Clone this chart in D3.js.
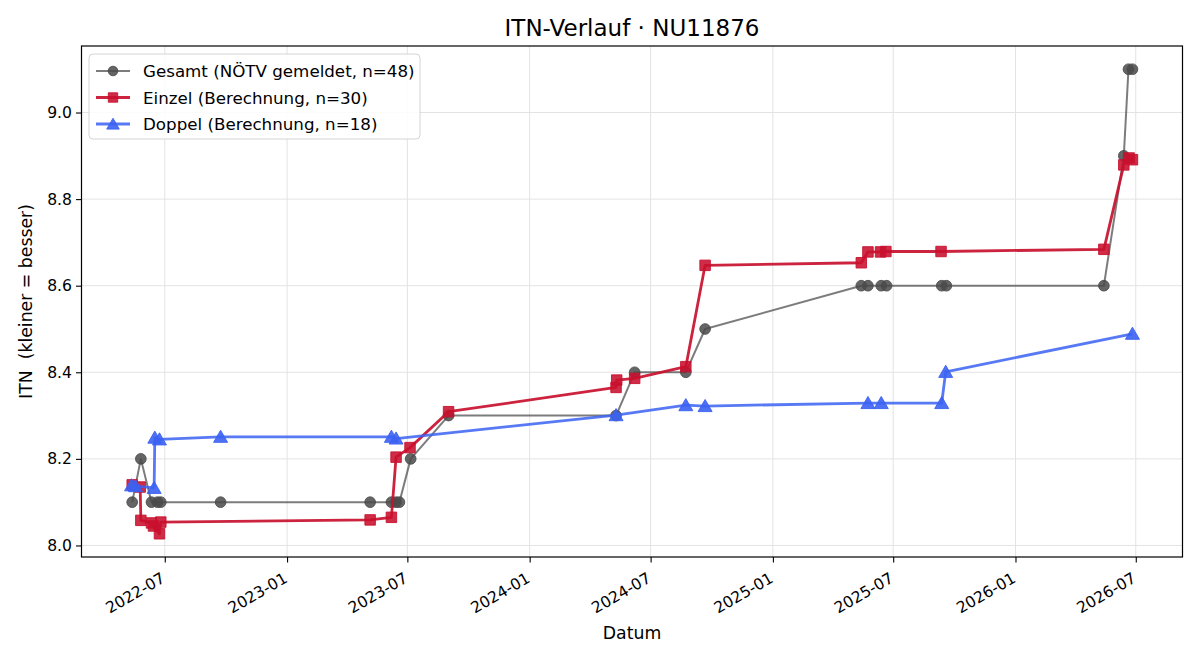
<!DOCTYPE html>
<html>
<head>
<meta charset="utf-8">
<script src="https://cdn.jsdelivr.net/npm/d3@7"></script>
<style>
  body { margin: 0; background: #fff; }
  svg { font-family: "DejaVu Sans", sans-serif; }
</style>
</head>
<body>
<svg id="chart"></svg>
<script>
// Gesamt (NÖTV gemeldet)
const gesamtDates = ["2022-05-13", "2022-05-26", "2022-06-11", "2022-06-20", "2022-06-25", "2022-09-23",
    "2023-05-06", "2023-06-07", "2023-06-14", "2023-06-19", "2023-07-06", "2023-09-01",
    "2024-05-10", "2024-06-07", "2024-08-23", "2024-09-21",
    "2025-05-14", "2025-05-24", "2025-06-13", "2025-06-21", "2025-09-12", "2025-09-19",
    "2026-05-14", "2026-06-13", "2026-06-20", "2026-06-26"];
const gesamtValues = [8.1, 8.2, 8.1, 8.1, 8.1, 8.1,
    8.1, 8.1, 8.1, 8.1, 8.2, 8.3,
    8.3, 8.4, 8.4, 8.5,
    8.6, 8.6, 8.6, 8.6, 8.6, 8.6,
    8.6, 8.9, 9.1, 9.1];

// Einzel (Berechnung)
const einzelDates = ["2022-05-13", "2022-05-25", "2022-05-26", "2022-06-11", "2022-06-14", "2022-06-23", "2022-06-25",
    "2023-05-06", "2023-06-07", "2023-06-14", "2023-07-05", "2023-09-01",
    "2024-05-10", "2024-05-11", "2024-06-07", "2024-08-23", "2024-09-21",
    "2025-05-14", "2025-05-24", "2025-06-12", "2025-06-20", "2025-09-11",
    "2026-05-14", "2026-06-13", "2026-06-21", "2026-06-26"];
const einzelValues = [8.14, 8.135, 8.058, 8.052, 8.045, 8.027, 8.054,
    8.059, 8.065, 8.204, 8.226, 8.309,
    8.365, 8.382, 8.386, 8.413, 8.647,
    8.653, 8.678, 8.678, 8.679, 8.679,
    8.684, 8.879, 8.895, 8.891];

// Doppel (Berechnung)
const doppelDates = ["2022-05-12", "2022-05-18", "2022-06-15", "2022-06-16", "2022-06-23", "2022-09-23",
    "2023-06-07", "2023-06-14",
    "2024-05-10", "2024-08-23", "2024-09-21",
    "2025-05-24", "2025-06-13", "2025-09-12", "2025-09-18",
    "2026-06-26"];
const doppelValues = [8.139, 8.137, 8.133, 8.249, 8.245, 8.251,
    8.251, 8.247,
    8.301, 8.324, 8.322,
    8.329, 8.329, 8.329, 8.401,
    8.489];

const seriesNames = ["Gesamt (NÖTV gemeldet, n=48)", "Einzel (Berechnung, n=30)", "Doppel (Berechnung, n=18)"];
const yTicks = [8.0, 8.2, 8.4, 8.6, 8.8, 9.0];

const parseDate = d3.timeParse("%Y-%m-%d");
const FONT = "DejaVu Sans, sans-serif";

function makeRows(dates, values) {
    // Zusammenführen von Datum und Wert
    return dates.map((d, i) => ({ date: parseDate(d), value: values[i] }));
}

function padExtent(ext, k) {
    // 5% Rand wie bei matplotlib
    let span = ext[1] - ext[0];
    return [ext[0] - span * k, +ext[1] + span * k];
}

function drawChart() {
    let width = 1200;
    let height = 660;
    let left = 81.5, right = 1182.5, top = 46, bottom = 557;

    let series = [
        { name: seriesNames[0], rows: makeRows(gesamtDates, gesamtValues), color: "#4a4a4a", lineOpacity: 0.72, lw: 2, marker: "circle", size: 90, mOpacity: 0.85 },
        { name: seriesNames[1], rows: makeRows(einzelDates, einzelValues), color: "#c8102e", lineOpacity: 0.92, lw: 2.8, marker: "square", size: 110, mOpacity: 0.88 },
        { name: seriesNames[2], rows: makeRows(doppelDates, doppelValues), color: "#3b62f2", lineOpacity: 0.85, lw: 2.8, marker: "triangle", size: 85, mOpacity: 0.9 }
    ];

    let allRows = series.flatMap(s => s.rows);
    let xExt = padExtent(d3.extent(allRows, r => r.date), 0.05);
    let yExt = padExtent(d3.extent(allRows, r => r.value), 0.05);

    let scaleX = d3.scaleTime().domain(xExt.map(t => new Date(t))).range([left, right]);
    let scaleY = d3.scaleLinear().domain(yExt).range([bottom, top]);

    let svg = d3.select("#chart").attr("width", width).attr("height", height);
    svg.selectAll("*").remove();

    let xTickVals = scaleX.ticks(d3.timeMonth.every(6));

    // Gitter
    let grid = svg.append("g");
    grid.selectAll(".gx").data(xTickVals).enter().append("line")
        .attr("x1", d => scaleX(d)).attr("x2", d => scaleX(d))
        .attr("y1", top).attr("y2", bottom)
        .attr("stroke", "#e3e3e3").attr("stroke-width", 1);
    grid.selectAll(".gy").data(yTicks).enter().append("line")
        .attr("x1", left).attr("x2", right)
        .attr("y1", d => scaleY(d)).attr("y2", d => scaleY(d))
        .attr("stroke", "#e3e3e3").attr("stroke-width", 1);

    // Linien und Marker
    let line = d3.line().x(r => scaleX(r.date)).y(r => scaleY(r.value));
    let symbolTypes = { circle: d3.symbolCircle, square: d3.symbolSquare, triangle: d3.symbolTriangle };

    for (let s of series) {
        svg.append("path")
            .datum(s.rows)
            .attr("d", line)
            .attr("fill", "none")
            .attr("stroke", s.color)
            .attr("stroke-opacity", s.lineOpacity)
            .attr("stroke-width", s.lw)
            .attr("stroke-linejoin", "round");
        let sym = d3.symbol().type(symbolTypes[s.marker]).size(s.size);
        svg.selectAll(null)
            .data(s.rows)
            .enter()
            .append("path")
            .attr("d", sym)
            .attr("transform", r => `translate(${scaleX(r.date)}, ${scaleY(r.value) + (s.marker == "triangle" ? 1.5 : 0)})`)
            .attr("fill", s.color)
            .attr("fill-opacity", s.mOpacity)
            .attr("stroke", s.color)
            .attr("stroke-opacity", s.mOpacity)
            .attr("stroke-width", 1);
    }

    // Achsen
    let axisX = d3.axisBottom(scaleX).tickValues(xTickVals).tickFormat(d3.timeFormat("%Y-%m")).tickSizeOuter(0).tickSize(5.5).tickPadding(4);
    let gx = svg.append("g")
        .attr("transform", `translate(0, ${bottom})`)
        .call(axisX)
        .attr("font-family", FONT);
    gx.select(".domain").remove();
    gx.selectAll("line").attr("stroke", "#000").attr("stroke-width", 1.1);
    gx.selectAll("text")
        .attr("font-size", 15.6)
        .attr("fill", "#000")
        .style("text-anchor", "end")
        .attr("y", 0)
        .attr("dy", "0.76em")
        .attr("transform", "translate(-5, 14) rotate(-30)");

    let axisY = d3.axisLeft(scaleY).tickValues(yTicks).tickFormat(d3.format(".1f")).tickSizeOuter(0).tickSize(5.5).tickPadding(4);
    let gy = svg.append("g")
        .attr("transform", `translate(${left}, 0)`)
        .call(axisY)
        .attr("font-family", FONT);
    gy.select(".domain").remove();
    gy.selectAll("line").attr("stroke", "#000").attr("stroke-width", 1.1);
    gy.selectAll("text").attr("font-size", 15.6).attr("fill", "#000");

    // Rahmen
    svg.append("rect")
        .attr("x", left).attr("y", top)
        .attr("width", right - left).attr("height", bottom - top)
        .attr("fill", "none").attr("stroke", "#000").attr("stroke-width", 1.2);

    // Titel und Beschriftungen
    svg.append("text")
        .attr("x", (left + right) / 2).attr("y", 36)
        .attr("text-anchor", "middle")
        .attr("font-size", 23)
        .text("ITN-Verlauf · NU11876");
    svg.append("text")
        .attr("x", (left + right) / 2).attr("y", 639)
        .attr("text-anchor", "middle")
        .attr("font-size", 17.3)
        .text("Datum");
    svg.append("text")
        .attr("transform", `translate(32, ${(top + bottom) / 2}) rotate(-90)`)
        .attr("text-anchor", "middle")
        .attr("font-size", 17.3)
        .attr("xml:space", "preserve")
        .text("ITN  (kleiner = besser)");

    // Legende
    let lg = svg.append("g");
    lg.append("rect")
        .attr("x", 89).attr("y", 54)
        .attr("width", 331).attr("height", 85)
        .attr("rx", 4)
        .attr("fill", "#fff").attr("fill-opacity", 0.85)
        .attr("stroke", "#d4d4d4").attr("stroke-width", 1);
    series.forEach((s, i) => {
        let cy = 71 + i * 26.5;
        lg.append("line")
            .attr("x1", 96).attr("x2", 130)
            .attr("y1", cy).attr("y2", cy)
            .attr("stroke", s.color).attr("stroke-opacity", s.lineOpacity)
            .attr("stroke-width", s.lw);
        lg.append("path")
            .attr("d", d3.symbol().type(symbolTypes[s.marker]).size(s.size * 0.8)())
            .attr("transform", `translate(113, ${cy + (s.marker == "triangle" ? 1.5 : 0)})`)
            .attr("fill", s.color).attr("fill-opacity", s.mOpacity)
            .attr("stroke", s.color).attr("stroke-opacity", s.mOpacity);
        lg.append("text")
            .attr("x", 143).attr("y", cy)
            .attr("dy", "0.36em")
            .attr("font-size", 16.7)
            .text(s.name);
    });
}

drawChart();
</script>
</body>
</html>
